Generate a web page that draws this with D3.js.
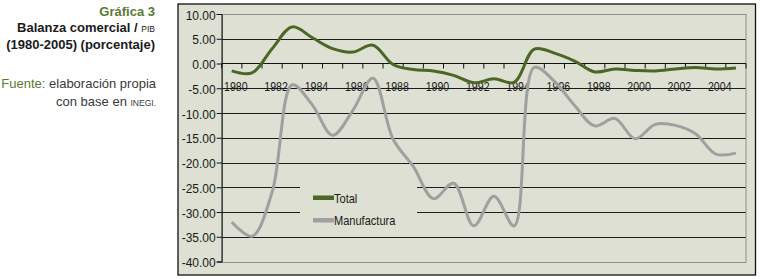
<!DOCTYPE html>
<html>
<head>
<meta charset="utf-8">
<script src="https://cdn.jsdelivr.net/npm/d3@7/dist/d3.min.js"></script>
<style>
  body { margin: 0; background: #fff; }
  svg text { font-family: "Liberation Sans", Arial, sans-serif; }
</style>
</head>
<body>
<div id="chart-area"></div>
<script>
// data
var years = [1980, 1981, 1982, 1983, 1984, 1985, 1986, 1987, 1988, 1989, 1990, 1991, 1992,
             1993, 1994, 1995, 1996, 1997, 1998, 1999, 2000, 2001, 2002, 2003, 2004, 2005];
var total = [-1.5, -1.9, 3.0, 7.4, 5.2, 3.0, 2.3, 3.7, -0.2, -1.2, -1.5, -2.4, -3.9,
             -3.1, -3.8, 2.9, 2.1, 0.5, -1.7, -1.1, -1.4, -1.5, -1.1, -0.8, -1.1, -0.9];
var manufactura = [-32.0, -34.9, -26.0, -4.3, -8.4, -14.5, -9.5, -3.0, -15.3, -20.8, -27.3, -24.2, -32.8,
                   -26.8, -32.8, -0.8, -3.6, -8.5, -12.6, -11.1, -15.2, -12.3, -12.5, -14.2, -18.3, -18.1];
var yTicks = [10, 5, 0, -5, -10, -15, -20, -25, -30, -35, -40];
var seriesNames = ["Total", "Manufactura"];
var seriesColors = ["#4b6625", "#a0a0a0"];

var W = 760, H = 279;
var plot = {left: 221.7, right: 746, top: 14, bottom: 261.5};
var squeeze = 0.85; // the chart font is a condensed face

var svg = d3.select("#chart-area")
  .append("svg")
    .attr("width", W)
    .attr("height", H);

// title block on the left
var tx = 155;
svg.append("text").attr("x", tx).attr("y", 16).attr("text-anchor", "end")
  .attr("font-size", "13px").attr("font-weight", "bold").style("fill", "#5b7a31")
  .text("Gráfica 3");
var t2 = svg.append("text").attr("x", tx).attr("y", 32).attr("text-anchor", "end")
  .attr("font-size", "13px").attr("font-weight", "bold").style("fill", "#1a1a1a");
t2.append("tspan").text("Balanza comercial / ");
t2.append("tspan").attr("font-size", "8.5px").attr("font-weight", "normal").text("PIB");
svg.append("text").attr("x", tx).attr("y", 49).attr("text-anchor", "end")
  .attr("font-size", "13px").attr("font-weight", "bold").style("fill", "#1a1a1a")
  .text("(1980-2005) (porcentaje)");
var t4 = svg.append("text").attr("x", tx + 1).attr("y", 88).attr("text-anchor", "end")
  .attr("font-size", "13px").style("fill", "#3a3a3a");
t4.append("tspan").style("fill", "#5b7a31").text("Fuente:");
t4.append("tspan").text(" elaboración propia");
var t5 = svg.append("text").attr("x", tx + 1).attr("y", 106).attr("text-anchor", "end")
  .attr("font-size", "13px").style("fill", "#3a3a3a");
t5.append("tspan").text("con base en ");
t5.append("tspan").attr("font-size", "8.5px").text("INEGI.");

// chart box
svg.append("rect")
  .attr("x", 178).attr("y", 4).attr("width", 577.5).attr("height", 271)
  .attr("fill", "#dde0d2").attr("stroke", "#111").attr("stroke-width", 1.3);

var x = d3.scaleBand()
  .domain(years)
  .range([plot.left, plot.right])
  .padding(0);

var y = d3.scaleLinear()
  .domain([-40, 10])
  .range([plot.bottom, plot.top]);

// gridlines
svg.append("g")
  .selectAll("line")
  .data(yTicks.filter(function(d) { return d < 10 && d > -40; }))
  .enter().append("line")
    .attr("x1", plot.left).attr("x2", plot.right)
    .attr("y1", function(d) { return Math.round(y(d)) + 0.5; })
    .attr("y2", function(d) { return Math.round(y(d)) + 0.5; })
    .attr("stroke", "#1c1c1c").attr("stroke-width", 1);

// plot area border (gray)
svg.append("rect")
  .attr("x", plot.left).attr("y", Math.round(y(10)) + 0.5)
  .attr("width", plot.right - plot.left)
  .attr("height", Math.round(y(-40)) - Math.round(y(10)))
  .attr("fill", "none").attr("stroke", "#8e8e8e").attr("stroke-width", 1);

// y axis
var leftAxis = d3.axisLeft(y)
  .tickValues(yTicks)
  .tickSize(5)
  .tickPadding(1)
  .tickFormat(function(d) { return d.toFixed(2); });
var ya = svg.append("g")
  .attr("class", "y axis")
  .attr("transform", "translate(" + plot.left + ",0)")
  .call(leftAxis);
ya.select(".domain").attr("stroke", "#111");
ya.selectAll(".tick line").attr("stroke", "#111");
ya.selectAll("text").attr("font-size", "12px").attr("dy", "0.42em")
  .style("fill", "#1a1a1a").style("font-family", "'Liberation Sans', Arial, sans-serif");

// x axis at zero, ticks between categories
var y0 = Math.round(y(0)) + 0.5;
var xa = svg.append("g")
  .attr("class", "x axis")
  .attr("transform", "translate(0," + y0 + ")");
xa.append("line")
  .attr("x1", plot.left).attr("x2", plot.right)
  .attr("stroke", "#111");
xa.selectAll(".tk")
  .data(years.concat(["end"]))
  .enter().append("line")
    .attr("class", "tk")
    .attr("x1", function(d) { return d === "end" ? plot.right : x(d); })
    .attr("x2", function(d) { return d === "end" ? plot.right : x(d); })
    .attr("y1", 0).attr("y2", 5)
    .attr("stroke", "#111");
xa.selectAll(".lbl")
  .data(years.filter(function(d) { return d % 2 === 0; }))
  .enter().append("text")
    .attr("class", "lbl")
    .attr("transform", function(d) {
      return "translate(" + (x(d) + x.bandwidth() / 2 + 4) + ",27.5) scale(" + squeeze + ",1)";
    })
    .attr("text-anchor", "middle")
    .attr("font-size", "12.5px")
    .style("fill", "#1a1a1a")
    .text(function(d) { return d; });

// lines (smoothed like the spreadsheet)
var line = d3.line()
  .x(function(d, i) { return x(years[i]) + x.bandwidth() / 2; })
  .y(function(d) { return y(d); })
  .curve(d3.curveCatmullRom.alpha(0.5));

svg.append("path")
  .datum(manufactura)
  .attr("d", line)
  .attr("fill", "none")
  .attr("stroke", seriesColors[1])
  .attr("stroke-width", 3)
  .attr("stroke-linejoin", "round");

svg.append("path")
  .datum(total)
  .attr("d", line)
  .attr("fill", "none")
  .attr("stroke", seriesColors[0])
  .attr("stroke-width", 3)
  .attr("stroke-linejoin", "round");

// legend
var lg = svg.append("g").attr("transform", "translate(300,181)");
lg.append("rect").attr("width", 117).attr("height", 46).attr("fill", "#dde0d2");
seriesNames.forEach(function(name, i) {
  lg.append("rect")
    .attr("x", 13).attr("y", 14.5 + i * 22.5)
    .attr("width", 21).attr("height", 4.5)
    .attr("fill", seriesColors[i]);
  lg.append("text")
    .attr("transform", "translate(34," + (21.5 + i * 22.5) + ") scale(" + squeeze + ",1)")
    .attr("font-size", "13px")
    .style("fill", "#1a1a1a")
    .text(name);
});
</script>
</body>
</html>
